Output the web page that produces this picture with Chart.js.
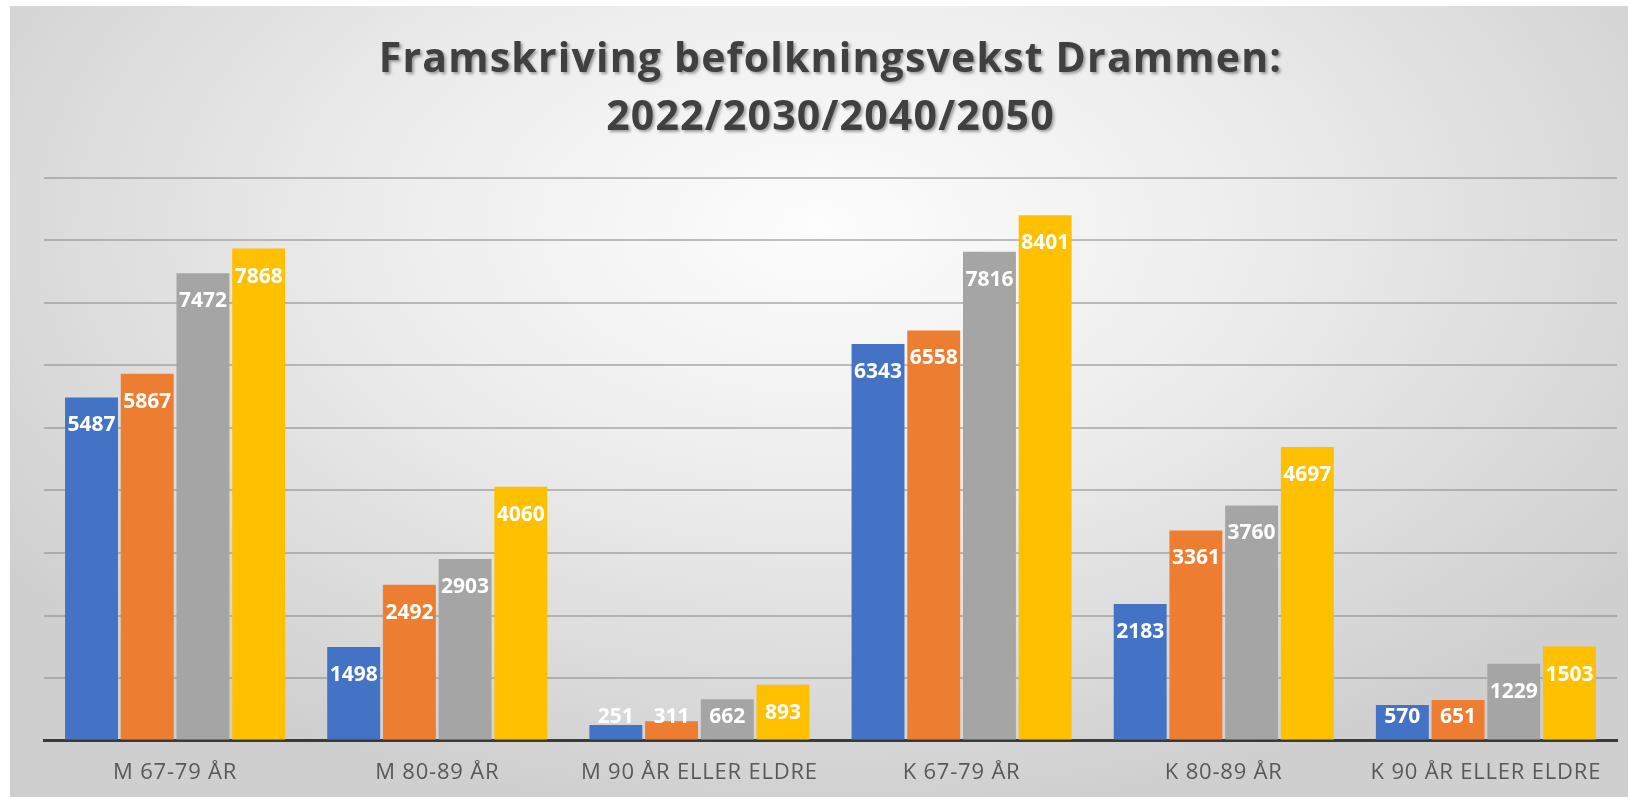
<!DOCTYPE html>
<html>
<head>
<meta charset="utf-8">
<script src="https://cdn.jsdelivr.net/npm/chart.js@4"></script>
<style>
  html, body { margin: 0; padding: 0; background: #ffffff; width: 1628px; height: 797px; overflow: hidden; }
  #bg { position: absolute; left: 10px; top: 6px; width: 1618px; height: 791px;
        background: radial-gradient(ellipse 62% 75% at 50% 28%, #fdfdfd 0%, #ececec 45%, #dcdcdc 75%, #cfcfcf 100%); }
  #wrap { position: absolute; left: 0; top: 0; width: 1628px; height: 797px; }
  canvas { display: block; }
</style>
</head>
<body>
<div id="bg"></div>
<div id="wrap"><canvas id="c" width="1628" height="797"></canvas></div>
<script>
const titleLines = ['Framskriving befolkningsvekst Drammen:', '2022/2030/2040/2050'];
const categories = ['M 67-79 ÅR', 'M 80-89 ÅR', 'M 90 ÅR ELLER ELDRE', 'K 67-79 ÅR', 'K 80-89 ÅR', 'K 90 ÅR ELLER ELDRE'];
const seriesNames = ['2022', '2030', '2040', '2050'];
const values2022 = [5487, 1498, 251, 6343, 2183, 570];
const values2030 = [5867, 2492, 311, 6558, 3361, 651];
const values2040 = [7472, 2903, 662, 7816, 3760, 1229];
const values2050 = [7868, 4060, 893, 8401, 4697, 1503];
const yMax = 9000;
const yStep = 1000;

const colors = ['#4472C4', '#ED7D31', '#A5A5A5', '#FFC000'];
const allValues = [values2022, values2030, values2040, values2050];

const textTweaks = {
  id: 'textTweaks',
  beforeDraw(chart) {
    const ctx = chart.ctx;
    const tb = chart.titleBlock;
    if (tb && !tb._wrapped) {
      const orig = tb.draw.bind(tb);
      tb.draw = function (area) {
        ctx.save();
        ctx.letterSpacing = '1.2px';
        ctx.shadowColor = 'rgba(0,0,0,0.35)';
        ctx.shadowBlur = 3;
        ctx.shadowOffsetX = 2;
        ctx.shadowOffsetY = 2;
        orig(area);
        ctx.restore();
      };
      tb._wrapped = true;
    }
    const xs = chart.scales.x;
    if (xs && !xs._wrapped) {
      const origL = xs.drawLabels.bind(xs);
      xs.drawLabels = function (area) {
        ctx.save();
        ctx.letterSpacing = '0.8px';
        origL(area);
        ctx.restore();
      };
      xs._wrapped = true;
    }
  }
};

const barLabels = {
  id: 'barLabels',
  afterDatasetsDraw(chart) {
    const ctx = chart.ctx;
    ctx.save();
    ctx.font = 'bold 21px "Open Sans", sans-serif';
    ctx.fillStyle = '#ffffff';
    ctx.textAlign = 'center';
    ctx.textBaseline = 'middle';
    chart.data.datasets.forEach((ds, di) => {
      const meta = chart.getDatasetMeta(di);
      meta.data.forEach((bar, i) => {
        const y = Math.min(bar.y + 28, bar.base - 23);
        ctx.fillText(String(ds.data[i]), bar.x, y);
      });
    });
    ctx.restore();
  }
};

new Chart(document.getElementById('c'), {
  type: 'bar',
  data: {
    labels: categories,
    datasets: seriesNames.map((name, i) => ({
      label: name,
      data: allValues[i],
      backgroundColor: colors[i],
      borderWidth: 0,
      categoryPercentage: 0.85,
      barPercentage: 0.95
    }))
  },
  options: {
    responsive: false,
    maintainAspectRatio: false,
    animation: false,
    layout: { padding: { top: 32, left: 44, right: 11, bottom: -8 } },
    plugins: {
      legend: { display: false },
      tooltip: { enabled: false },
      title: {
        display: true,
        text: titleLines,
        color: '#404040',
        font: { family: '"Open Sans", sans-serif', size: 41, weight: 'bold', lineHeight: 1.4 },
        padding: { top: 0, bottom: 31 }
      }
    },
    scales: {
      x: {
        grid: { display: false, drawTicks: false },
        border: { display: true, color: '#3a3a3a', width: 3 },
        ticks: { color: '#595959', font: { family: '"Open Sans", sans-serif', size: 22 }, padding: 19, maxRotation: 0, autoSkip: false }
      },
      y: {
        min: 0,
        max: yMax,
        ticks: { display: false, stepSize: yStep },
        grid: { color: 'rgba(140,140,140,0.55)', lineWidth: 2, drawTicks: false },
        border: { display: false }
      }
    }
  },
  plugins: [textTweaks, barLabels]
});
</script>
</body>
</html>
